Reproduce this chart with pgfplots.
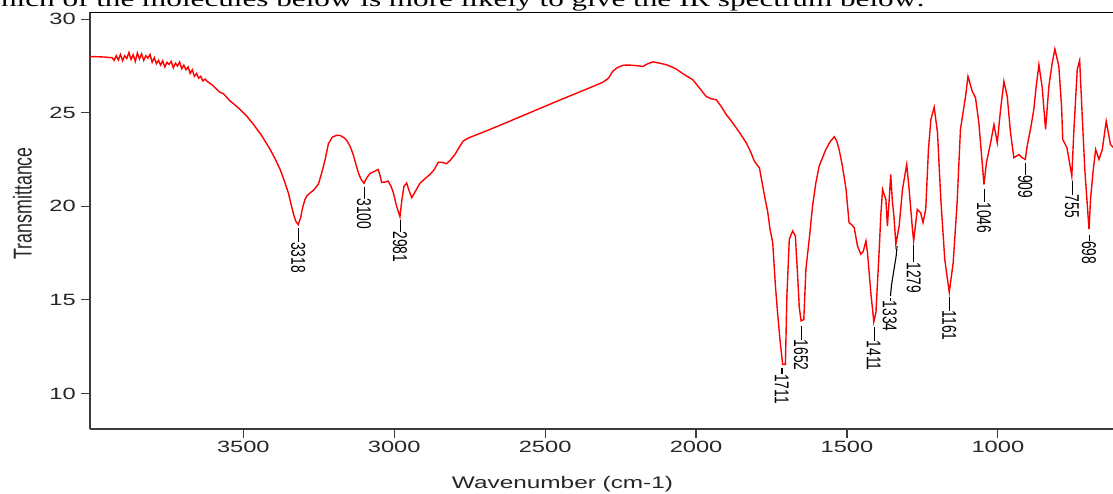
\documentclass[border=0pt]{standalone}
\usepackage{pgfplots}
\pgfplotsset{compat=1.18}
\usepackage{fontspec}
\setmainfont{Liberation Sans}
\newfontfamily\tickfont{Liberation Sans}[FakeStretch=1.45]
\newfontfamily\rotfont{Liberation Sans}[FakeStretch=0.69]
\newfontfamily\titlefont{Liberation Serif}[FakeStretch=1.45]
\newcommand{\pk}[2]{\rule[6.6pt]{#1pt}{1.1pt}#2}
\definecolor{axgray}{HTML}{3C3C3C}
\begin{document}
\begin{tikzpicture}
\node[anchor=base east, inner sep=0pt, font=\titlefont\fontsize{21.5}{24}\selectfont] at (925pt,486pt)
  {Which of the molecules below is more likely to give the IR spectrum below:};
\begin{axis}[
  at={(90pt,64pt)}, anchor=south west,
  scale only axis, width=1058.8pt, height=416.5pt,
  x dir=reverse,
  xmin=500, xmax=4008, ymin=8.1, ymax=30.36,
  axis lines=left,
  axis line style={-, draw=axgray, line width=2.2pt},
  tick align=outside,
  major tick length=9pt,
  tick style={line width=1.2pt, draw=axgray},
  xtick={1000,1500,2000,2500,3000,3500},
  ytick={10,15,20,25,30},
  /pgf/number format/assume math mode=true,
  /pgf/number format/set thousands separator={},
  ticklabel style={font=\tickfont\fontsize{16.3}{18}\selectfont, text=black!85},
  xticklabel style={inner sep=0pt, anchor=north, yshift=-3pt},
  yticklabel style={inner sep=0pt, anchor=east, xshift=-5pt},
]
\draw[black, line width=1.4pt] (rel axis cs:0,1) -- (rel axis cs:1,1);
% peak labels
\addplot[draw=none, mark=none, nodes near coords, point meta=explicit symbolic,
  every node near coord/.append style={anchor=west, rotate=-90, inner sep=0pt, inner xsep=1.5pt,
    text=black, font=\rotfont\fontsize{20}{22}\selectfont}]
coordinates {
(3318,18.93) [\pk{14}{3318}]
(3100,21.15) [\pk{12}{3100}]
(2981,19.38) [\pk{12}{2981}]
(1716,11.45) [\pk{6}{1711}]
(1652,13.70) [\pk{14}{1652}]
(1411,13.65) [\pk{14}{1411}]
(1279,18.00) [\pk{17}{1279}]
(1161,15.25) [\pk{14}{1161}]
(1046,21.00) [\pk{13}{1046}]
(909,22.40) [\pk{12}{909}]
(755,21.45) [\pk{14}{755}]
(698,18.55) [\pk{6}{698}]
};
\draw[black, line width=1.1pt] (axis cs:1334,17.87) -- (axis cs:1337,17.34) -- (axis cs:1352,15.83) -- (axis cs:1356,15.20);
\node[anchor=west, rotate=-90, inner sep=0pt, inner xsep=1.5pt, text=black, font=\rotfont\fontsize{20}{22}\selectfont]
  at (axis cs:1358,15.20) {\pk{3}{1334}};
% spectrum
\addplot[red, line width=1.4pt, mark=none] coordinates {
(4008,28.00) (3990,28.00) (3960,27.98) (3940,27.95)
(3935,27.95) (3928,27.80) (3921,28.05) (3914,27.82) (3907,28.12) (3900,27.78)
(3893,28.05) (3886,27.90) (3879,28.22) (3872,27.85) (3865,28.10) (3858,27.75)
(3851,28.20) (3844,27.88) (3837,28.15) (3830,27.80) (3823,28.05) (3816,27.92)
(3809,28.12) (3802,27.70) (3795,27.95) (3788,27.62) (3781,27.80) (3774,27.55)
(3767,27.78) (3760,27.45) (3753,27.70) (3746,27.58) (3739,27.75) (3732,27.40)
(3725,27.65) (3718,27.50) (3711,27.72) (3704,27.35) (3697,27.55) (3690,27.30)
(3683,27.45) (3676,27.10) (3669,27.30) (3662,26.95) (3655,27.10) (3648,26.85)
(3641,26.95) (3634,26.70) (3627,26.80) (3620,26.68) (3600,26.45) (3580,26.12)
(3566,26.02) (3545,25.65) (3530,25.45) (3510,25.17) (3490,24.85) (3466,24.37)
(3440,23.80) (3411,23.04) (3395,22.55) (3378,21.97) (3365,21.40) (3351,20.73)
(3340,20.00) (3334,19.60) (3326,19.20) (3318,19.02) (3310,19.40) (3304,19.90)
(3296,20.35) (3290,20.55) (3280,20.70) (3268,20.85) (3258,21.05) (3251,21.20)
(3240,21.80) (3229,22.50) (3218,23.35) (3205,23.70) (3190,23.80) (3178,23.78)
(3165,23.65) (3157,23.52) (3146,23.20) (3136,22.77) (3126,22.20) (3119,21.80)
(3110,21.45) (3100,21.23) (3092,21.50) (3080,21.76) (3068,21.85) (3053,21.97)
(3046,21.60) (3042,21.28) (3030,21.30) (3020,21.35) (3010,21.05) (3003,20.73)
(2992,20.00) (2981,19.45) (2975,20.30) (2968,21.05) (2959,21.25) (2952,20.90)
(2942,20.46) (2930,20.80) (2915,21.23) (2900,21.45) (2882,21.70) (2868,21.95)
(2854,22.36) (2840,22.35) (2827,22.28) (2815,22.45) (2799,22.77) (2785,23.15)
(2772,23.48) (2755,23.65) (2739,23.75) (2700,24.00) (2650,24.33) (2600,24.67)
(2550,25.01) (2500,25.35) (2450,25.69) (2400,26.02) (2350,26.35) (2309,26.63)
(2290,26.85) (2276,27.22) (2260,27.42) (2242,27.54) (2220,27.55) (2198,27.52)
(2176,27.48) (2160,27.62) (2143,27.72) (2120,27.65) (2099,27.57) (2080,27.45)
(2066,27.34) (2040,27.05) (2011,26.77) (1990,26.35) (1967,25.88) (1950,25.75)
(1933,25.70) (1915,25.30) (1900,24.90) (1885,24.60) (1867,24.20) (1850,23.80)
(1834,23.40) (1820,22.95) (1807,22.42) (1795,22.15) (1790,22.06) (1779,21.08)
(1770,20.30) (1763,19.75) (1755,18.80) (1746,18.06) (1737,15.75) (1730,14.33)
(1721,12.73) (1713,11.55) (1704,11.55) (1699,15.22) (1691,18.24) (1680,18.68)
(1671,18.42) (1664,16.46) (1658,14.60) (1652,13.88) (1643,13.95) (1636,16.64)
(1625,18.24) (1614,20.02) (1603,21.26) (1592,22.15) (1570,23.04) (1556,23.45)
(1542,23.72) (1534,23.50) (1526,23.04) (1515,22.15) (1503,20.91) (1493,19.13)
(1483,19.00) (1476,18.86) (1465,17.88) (1454,17.44) (1446,17.60) (1437,18.15)
(1432,17.53) (1421,15.40) (1411,13.83) (1404,14.33) (1393,17.71) (1388,19.48)
(1382,20.91) (1376,20.60) (1371,20.37) (1366,18.95) (1360,20.37) (1355,21.71)
(1350,20.37) (1344,19.40) (1338,17.97) (1327,18.95) (1316,20.91) (1302,22.24)
(1294,20.91) (1283,18.77) (1279,18.15) (1267,19.84) (1256,19.66) (1248,19.13)
(1239,19.84) (1230,23.04) (1222,24.64) (1211,25.30) (1200,23.93) (1189,20.37)
(1176,17.17) (1161,15.40) (1148,17.00) (1135,20.20) (1124,24.11) (1107,25.88)
(1099,26.95) (1085,26.15) (1074,25.80) (1063,24.46) (1046,21.17) (1038,22.33)
(1024,23.40) (1013,24.37) (1002,23.40) (991,25.17) (980,26.68) (969,25.88)
(958,23.93) (947,22.60) (930,22.77) (920,22.60) (909,22.51) (903,23.22)
(892,24.11) (881,25.17) (873,26.42) (864,27.57) (853,26.33) (842,24.11)
(831,26.42) (820,27.66) (811,28.41) (798,27.48) (789,25.35) (785,23.57)
(771,23.13) (755,21.62) (748,24.11) (737,27.31) (729,27.80) (721,25.00)
(712,21.97) (698,18.77) (693,20.37) (685,21.80) (676,23.04) (665,22.51)
(654,23.04) (641,24.55) (627,23.31) (615,23.10)
};
\end{axis}
\node[font=\tickfont\fontsize{16.8}{19}\selectfont, text=black!85, anchor=base, inner sep=0pt] at (562.5pt,4.3pt) {Wavenumber (cm-1)};
\node[font=\rotfont\fontsize{25.8}{28}\selectfont, text=black!85, rotate=90, inner sep=0pt] at (22.3pt,289.7pt) {Transmittance};
\pgfresetboundingbox
\useasboundingbox (0pt,0pt) rectangle (1113pt,493pt);
\end{tikzpicture}
\end{document}
